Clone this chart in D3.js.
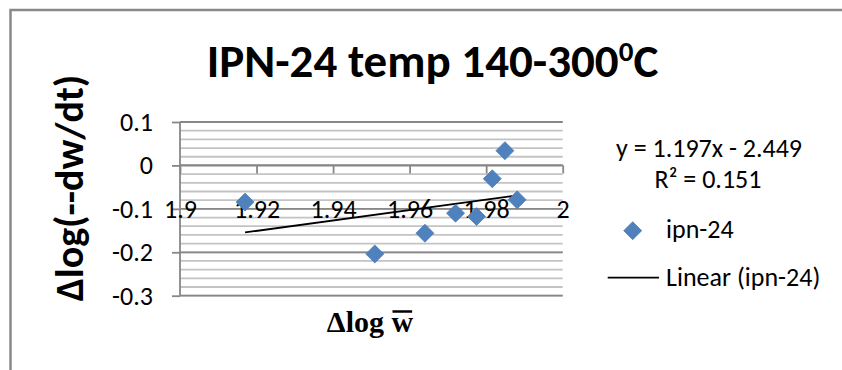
<!DOCTYPE html>
<html>
<head>
<meta charset="utf-8">
<script src="https://cdn.jsdelivr.net/npm/d3@7"></script>
<style>
  html, body { margin: 0; padding: 0; background: #fff; overflow: hidden; }
  svg { display: block; }
  .sans { font-family: Calibri, Carlito, Lato, "Open Sans", sans-serif; }
  .serif { font-family: "Times New Roman", "Liberation Serif", serif; }
</style>
</head>
<body>
<svg id="chart" width="842" height="370"></svg>
<script>
// Scatter data: Δlog w̄ (x) against Δlog(-dw/dt) (y) for ipn-24
const seriesName = "ipn-24";
const xValues = [1.9170, 1.9509, 1.9640, 1.9720, 1.9775, 1.9816, 1.9849, 1.9881];
const yValues = [-0.0845, -0.2039, -0.1561, -0.1099, -0.1178, -0.0307, 0.0339, -0.0792];

// Fitted linear trend (as reported)
const trendSlope = 1.197;
const trendIntercept = -2.449;
const trendR2 = 0.151;

// Axis ticks and their labels
const xTicks = [1.9, 1.92, 1.94, 1.96, 1.98, 2.0];
const xTickLabels = ["1.9", "1.92", "1.94", "1.96", "1.98", "2"];
const yTicks = [0.1, 0, -0.1, -0.2, -0.3];
const yTickLabels = ["0.1", "0", "-0.1", "-0.2", "-0.3"];
const yMinorStep = 0.02;

const titleMain = "IPN-24 temp 140-300";
const titleSup = "0";
const titleEnd = "C";
const yTitle = "Δlog(--dw/dt)";
const xTitle = "Δlog w";

const svg = d3.select("#chart");
const labelSize = 26;

// Chart-area frame (left and top edges fall inside the view)
svg.append("path")
  .attr("d", "M10.5,380V10H850")
  .attr("fill", "none")
  .attr("stroke", "#898989").attr("stroke-width", 2.5);

// Plot area geometry
const plot = { left: 180, right: 562.7, top: 122, bottom: 295.7 };
const x = d3.scaleLinear().domain([1.9, 2.0]).range([plot.left, plot.right]);
const y = d3.scaleLinear().domain([-0.3, 0.1]).range([plot.bottom, plot.top]);

// Minor horizontal gridlines
const minorVals = d3.range(-0.3, 0.1 + 1e-9, yMinorStep);
svg.append("g").selectAll("line")
  .data(minorVals)
  .join("line")
  .attr("x1", plot.left).attr("x2", plot.right)
  .attr("y1", d => y(d)).attr("y2", d => y(d))
  .attr("stroke", "#c3c3c3").attr("stroke-width", 1.8);

// Major horizontal gridlines
svg.append("g").selectAll("line")
  .data(yTicks)
  .join("line")
  .attr("x1", plot.left).attr("x2", plot.right)
  .attr("y1", d => y(d)).attr("y2", d => y(d))
  .attr("stroke", "#878787").attr("stroke-width", 1.8);

// Y axis
const yAxis = svg.append("g")
  .attr("transform", `translate(${plot.left},0)`)
  .call(d3.axisLeft(y)
    .tickValues(yTicks)
    .tickFormat((d, i) => yTickLabels[i])
    .tickSize(8)
    .tickPadding(19));
yAxis.select(".domain").attr("stroke", "#878787").attr("stroke-width", 1.8)
  .attr("d", `M0,${plot.top}V${plot.bottom}`);
yAxis.selectAll(".tick line").attr("stroke", "#878787").attr("stroke-width", 1.8);
yAxis.selectAll(".tick text")
  .attr("class", "sans")
  .attr("font-size", labelSize).attr("fill", "#000");

// X axis crossing at y = 0, labels sit lower down
const xAxis = svg.append("g")
  .attr("transform", `translate(0,${y(0)})`)
  .call(d3.axisBottom(x)
    .tickValues(xTicks)
    .tickFormat((d, i) => xTickLabels[i])
    .tickSize(8)
    .tickPadding(26));
xAxis.select(".domain").attr("stroke", "#878787").attr("stroke-width", 1.8)
  .attr("d", `M${plot.left},0H${plot.right}`);
xAxis.selectAll(".tick line").attr("stroke", "#878787").attr("stroke-width", 1.8);
xAxis.selectAll(".tick text")
  .attr("class", "sans")
  .attr("font-size", labelSize).attr("fill", "#000");

// Trend line over the data range
const xExtent = d3.extent(xValues);
const trend = xExtent.map(v => [v, trendSlope * v + trendIntercept]);
svg.append("path")
  .attr("d", d3.line().x(d => x(d[0])).y(d => y(d[1]))(trend))
  .attr("stroke", "#000").attr("stroke-width", 1.8).attr("fill", "none");

// Diamond markers
const diamond = d3.symbol().type(d3.symbolSquare).size(162);
const points = xValues.map((v, i) => ({ x: v, y: yValues[i] }));
svg.append("g").selectAll("path")
  .data(points)
  .join("path")
  .attr("d", diamond)
  .attr("transform", d => `translate(${x(d.x)},${y(d.y)}) rotate(45)`)
  .attr("fill", "#4f81bd").attr("stroke", "#4a7ebb").attr("stroke-width", 0.75);

// Title
const title = svg.append("text")
  .attr("class", "sans")
  .attr("x", 432.5).attr("y", 77)
  .attr("text-anchor", "middle")
  .attr("font-size", 47).attr("font-weight", "bold").attr("fill", "#000");
title.append("tspan").text(titleMain);
title.append("tspan").attr("font-size", 29).attr("dy", -16).text(titleSup);
title.append("tspan").attr("dy", 16).text(titleEnd);

// Y axis title
svg.append("text")
  .attr("class", "sans")
  .attr("transform", "translate(83,188) rotate(-90)")
  .attr("text-anchor", "middle")
  .attr("font-size", 40).attr("font-weight", "bold").attr("fill", "#000")
  .text(yTitle);

// X axis title with a bar over the w
const xt = svg.append("text")
  .attr("class", "serif")
  .attr("x", 370).attr("y", 331.5)
  .attr("text-anchor", "middle")
  .attr("font-size", 30).attr("font-weight", "bold").attr("fill", "#000")
  .text(xTitle);
const wBox = xt.node().getExtentOfChar(xTitle.length - 1);
svg.append("line")
  .attr("x1", wBox.x + 1).attr("x2", wBox.x + wBox.width - 1)
  .attr("y1", 311.5).attr("y2", 311.5)
  .attr("stroke", "#000").attr("stroke-width", 2.5);

// Trend equation and R²
const sign = trendIntercept < 0 ? "-" : "+";
svg.append("text")
  .attr("class", "sans")
  .attr("x", 709).attr("y", 157)
  .attr("text-anchor", "middle")
  .attr("font-size", labelSize).attr("fill", "#000")
  .text(`y = ${trendSlope.toFixed(3)}x ${sign} ${Math.abs(trendIntercept).toFixed(3)}`);
svg.append("text")
  .attr("class", "sans")
  .attr("x", 708).attr("y", 188)
  .attr("text-anchor", "middle")
  .attr("font-size", labelSize).attr("fill", "#000")
  .text(`R² = ${trendR2.toFixed(3)}`);

// Legend
const legend = svg.append("g");
legend.append("path")
  .attr("d", diamond)
  .attr("transform", "translate(632.7,230.7) rotate(45)")
  .attr("fill", "#4f81bd").attr("stroke", "#4a7ebb").attr("stroke-width", 0.75);
legend.append("text")
  .attr("class", "sans")
  .attr("x", 666).attr("y", 238)
  .attr("font-size", labelSize).attr("fill", "#000")
  .text(seriesName);
legend.append("line")
  .attr("x1", 607.7).attr("x2", 659)
  .attr("y1", 277.7).attr("y2", 277.7)
  .attr("stroke", "#000").attr("stroke-width", 1.8);
legend.append("text")
  .attr("class", "sans")
  .attr("x", 666).attr("y", 286)
  .attr("font-size", labelSize).attr("fill", "#000")
  .text(`Linear (${seriesName})`);
</script>
</body>
</html>
